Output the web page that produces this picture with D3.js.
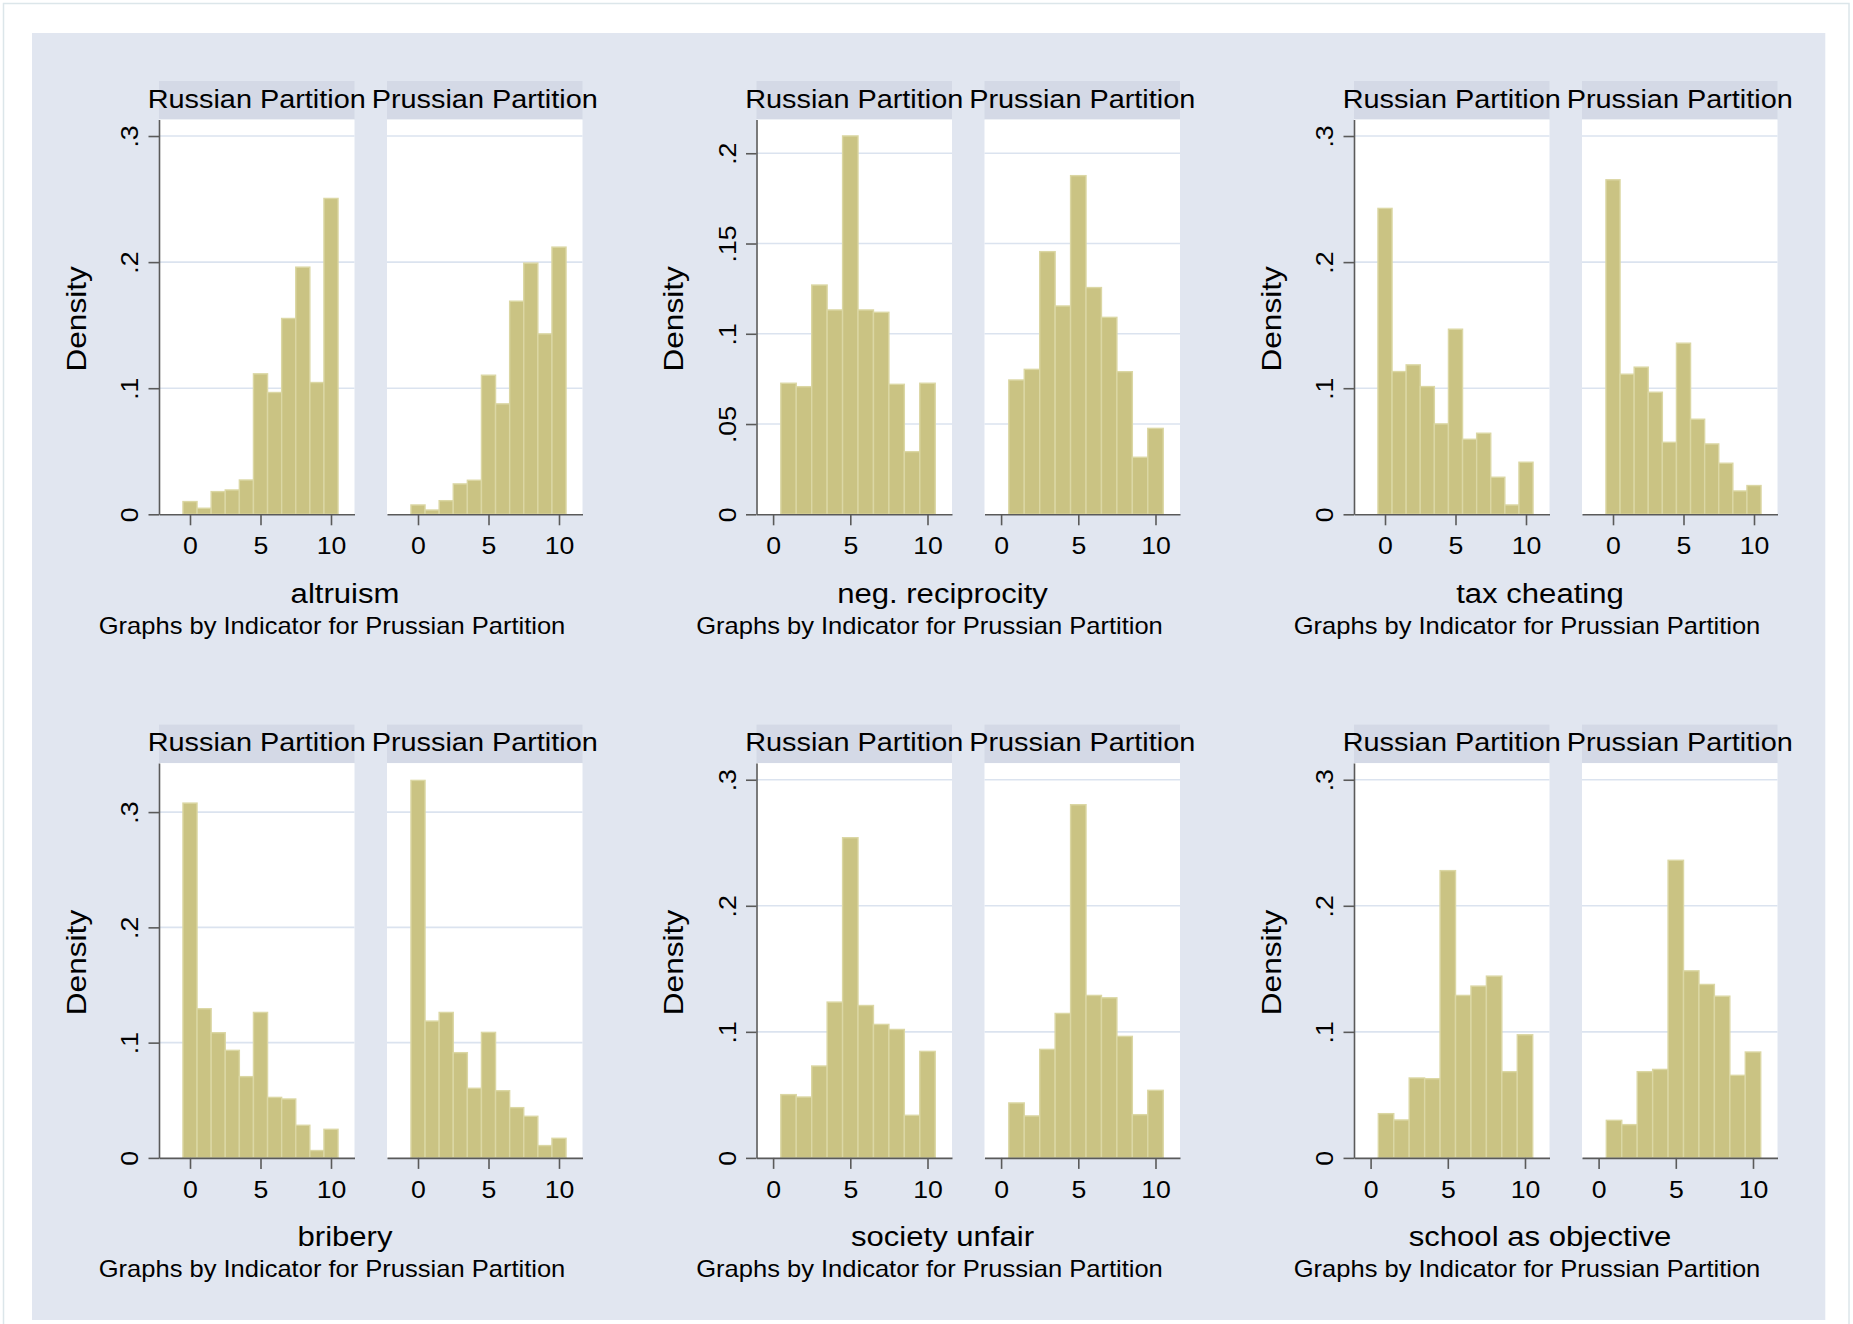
<!DOCTYPE html>
<html>
<head>
<meta charset="utf-8">
<script src="https://cdn.jsdelivr.net/npm/d3@7"></script>
<style>
  body { margin: 0; background: #ffffff; }
  svg { display: block; }
  text { font-family: "Liberation Sans", Arial, Helvetica, sans-serif; fill: #000; }
</style>
</head>
<body>
<svg id="chart" width="1853" height="1324"></svg>
<script>
// ---------------- DATA ----------------
const indicators = ["altruism", "neg. reciprocity", "tax cheating", "bribery", "society unfair", "school as objective"];
const partitions = ["Russian Partition", "Prussian Partition"];
const noteText = "Graphs by Indicator for Prussian Partition";
const yAxisTitle = "Density";

const scoreBins0to10 = [0, 1, 2, 3, 4, 5, 6, 7, 8, 9, 10];
const scoreBins1to10 = [1, 2, 3, 4, 5, 6, 7, 8, 9, 10];

const altruismRussian  = [0.0101, 0.0048, 0.0180, 0.0193, 0.0272, 0.1114, 0.0966, 0.1553, 0.1960, 0.1045, 0.2505];
const altruismPrussian = [0.0074, 0.0034, 0.0108, 0.0241, 0.0270, 0.1103, 0.0876, 0.1690, 0.1992, 0.1431, 0.2119];

const negRecRussian  = [0.0726, 0.0707, 0.1270, 0.1132, 0.2096, 0.1132, 0.1119, 0.0720, 0.0347, 0.0726];
const negRecPrussian = [0.0744, 0.0803, 0.1455, 0.1154, 0.1876, 0.1256, 0.1091, 0.0790, 0.0316, 0.0476];

const taxRussian  = [0.2426, 0.1132, 0.1185, 0.1013, 0.0717, 0.1468, 0.0595, 0.0643, 0.0294, 0.0074, 0.0413];
const taxPrussian = [0.2653, 0.1111, 0.1167, 0.0968, 0.0571, 0.1357, 0.0754, 0.0558, 0.0405, 0.0185, 0.0228];

const briberyRussian  = [0.3078, 0.1294, 0.1086, 0.0933, 0.0705, 0.1262, 0.0525, 0.0511, 0.0283, 0.0064, 0.0248];
const briberyPrussian = [0.3275, 0.1187, 0.1262, 0.0913, 0.0604, 0.1089, 0.0583, 0.0436, 0.0361, 0.0107, 0.0170];

const unfairRussian  = [0.0502, 0.0483, 0.0729, 0.1236, 0.2540, 0.1209, 0.1059, 0.1019, 0.0338, 0.0845];
const unfairPrussian = [0.0436, 0.0333, 0.0861, 0.1146, 0.2802, 0.1289, 0.1270, 0.0964, 0.0343, 0.0536];

const schoolRussian  = [0.0351, 0.0301, 0.0634, 0.0628, 0.2279, 0.1289, 0.1363, 0.1442, 0.0684, 0.0977];
const schoolPrussian = [0.0298, 0.0264, 0.0684, 0.0702, 0.2361, 0.1484, 0.1376, 0.1283, 0.0655, 0.0840];

const xTickValues = [0, 5, 10];
const yTicksDensity = [0, 0.1, 0.2, 0.3];
const yTicksNegRec = [0, 0.05, 0.1, 0.15, 0.2];

// table assembled from the named arrays
const panelsData = [
  { bins: scoreBins0to10, series: [altruismRussian, altruismPrussian], yTicks: yTicksDensity },
  { bins: scoreBins1to10, series: [negRecRussian, negRecPrussian], yTicks: yTicksNegRec },
  { bins: scoreBins0to10, series: [taxRussian, taxPrussian], yTicks: yTicksDensity },
  { bins: scoreBins0to10, series: [briberyRussian, briberyPrussian], yTicks: yTicksDensity },
  { bins: scoreBins1to10, series: [unfairRussian, unfairPrussian], yTicks: yTicksDensity },
  { bins: scoreBins1to10, series: [schoolRussian, schoolPrussian], yTicks: yTicksDensity }
];

// ---------------- LAYOUT / STYLE ----------------
const layout = {
  colLeft: 159, colStep: 597.5, rowStep: 643.6,
  panelW: 195.5, panelStep: 228,
  stripTop: 81, plotTop: 119.5, base: 514.3,
  yMax: [0.3131, 0.2187, 0.3131, 0.3425, 0.3132, 0.3132],
  // x domains (range padding differs by data span)
  xDomain0: [-2.199, 11.667],
  xDomain1: [-1.075, 11.587]
};
const style = {
  bg: "#e1e6f0", strip: "#d4d9e6", plot: "#ffffff", grid: "#dbe3ef",
  axis: "#5a5a5a", barFill: "#cac383", barStroke: "#dbd7a4",
  stretch: 1.11
};

const svg = d3.select("#chart");

svg.append("rect").attr("x", 3.5).attr("y", 3.5).attr("width", 1845.5).attr("height", 1340)
  .attr("fill", "#ffffff").attr("stroke", "#dce6ea").attr("stroke-width", 1.5);
svg.append("rect").attr("x", 32).attr("y", 33).attr("width", 1793.3).attr("height", 1287)
  .attr("fill", style.bg);

const fmtY = d => d === 0 ? "0" : String(d).replace(/^0/, "");
const S = style.stretch;

indicators.forEach((name, i) => {
  const col = i % 3, row = Math.floor(i / 3);
  const x0 = layout.colLeft + col * layout.colStep;
  const off = row * layout.rowStep;
  const plotTop = layout.plotTop + off, base = layout.base + off, stripTop = layout.stripTop + off;
  const pd = panelsData[i];
  const xDom = pd.bins[0] === 0 ? layout.xDomain0 : layout.xDomain1;
  const y = d3.scaleLinear().domain([0, layout.yMax[i]]).range([base, plotTop]);

  const g = svg.append("g");

  partitions.forEach((pname, p) => {
    const px = x0 + p * layout.panelStep;
    const pw = layout.panelW;
    const x = d3.scaleLinear().domain(xDom).range([px, px + pw]);

    // strip
    g.append("rect").attr("x", px).attr("y", stripTop).attr("width", pw).attr("height", plotTop - stripTop)
      .attr("fill", style.strip);
    g.append("text").attr("text-anchor", "middle").attr("font-size", 26)
      .attr("transform", `translate(${px + pw / 2},${stripTop + 26.7}) scale(${S},1)`)
      .text(pname);

    // plot region
    g.append("rect").attr("x", px).attr("y", plotTop).attr("width", pw).attr("height", base - plotTop)
      .attr("fill", style.plot);

    // grid
    g.selectAll(null).data(pd.yTicks.filter(t => t > 0)).join("line")
      .attr("x1", px).attr("x2", px + pw)
      .attr("y1", d => y(d)).attr("y2", d => y(d))
      .attr("stroke", style.grid).attr("stroke-width", 1.6);

    // bars
    const vals = pd.series[p];
    g.selectAll(null).data(pd.bins.map((b, k) => ({ b, d: vals[k] }))).join("rect")
      .attr("x", d => x(d.b - 0.5))
      .attr("width", d => x(d.b + 0.5) - x(d.b - 0.5))
      .attr("y", d => y(d.d))
      .attr("height", d => base - y(d.d))
      .attr("fill", style.barFill)
      .attr("stroke", style.barStroke)
      .attr("stroke-width", 1.4);

    // x axis
    const xa = g.append("g").attr("transform", `translate(0,${base})`)
      .call(d3.axisBottom(x).tickValues(xTickValues).tickSize(11).tickSizeOuter(0).tickFormat(d3.format("d")));
    xa.select(".domain").attr("stroke", style.axis).attr("stroke-width", 1.6);
    xa.selectAll(".tick line").attr("stroke", style.axis).attr("stroke-width", 1.6);
    xa.selectAll(".tick text").attr("y", 39.7).attr("dy", null)
      .attr("font-size", 24).attr("font-family", null).attr("fill", "#000")
      .attr("transform", `scale(${S},1)`);

    // y axis only on first panel
    if (p === 0) {
      const ya = g.append("g").attr("transform", `translate(${px},0)`)
        .call(d3.axisLeft(y).tickValues(pd.yTicks).tickSize(10.5).tickSizeOuter(0).tickFormat(fmtY));
      ya.select(".domain").attr("stroke", style.axis).attr("stroke-width", 1.6);
      ya.selectAll(".tick line").attr("stroke", style.axis).attr("stroke-width", 1.6);
      ya.selectAll(".tick text").attr("x", null).attr("dy", null)
        .attr("text-anchor", "middle").attr("font-size", 24).attr("font-family", null).attr("fill", "#000")
        .attr("transform", `translate(-21,0) rotate(-90) scale(${S},1)`);
    }
  });

  // y axis title
  g.append("text").attr("text-anchor", "middle").attr("font-size", 28.5)
    .attr("transform", `translate(${x0 - 73.5},${(plotTop + base) / 2 + 2}) rotate(-90) scale(${S},1)`)
    .text(yAxisTitle);

  // x title
  g.append("text").attr("text-anchor", "middle").attr("font-size", 28)
    .attr("transform", `translate(${x0 + 186},${602.7 + off}) scale(${S},1)`)
    .text(name);

  // note
  g.append("text").attr("text-anchor", "middle").attr("font-size", 23)
    .attr("transform", `translate(${x0 + 173},${633.6 + off}) scale(${S},1)`)
    .text(noteText);
});
</script>
</body>
</html>
